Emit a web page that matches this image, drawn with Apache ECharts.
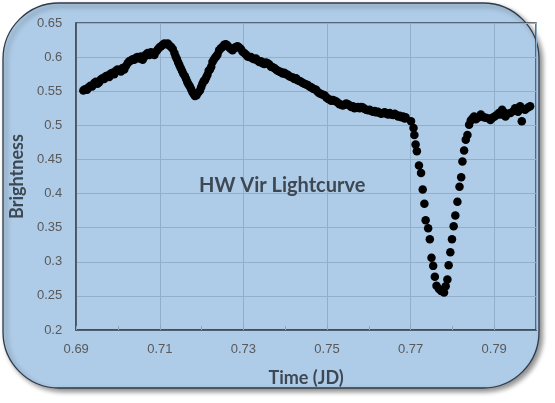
<!DOCTYPE html>
<html>
<head>
<meta charset="utf-8">
<title>HW Vir Lightcurve</title>
<script src="https://cdn.jsdelivr.net/npm/echarts@6/dist/echarts.min.js"></script>
<style>
  html, body { margin: 0; padding: 0; background: #ffffff; }
  #main { width: 555px; height: 403px; }
</style>
</head>
<body>
<div id="main"></div>
<script>
const times = [
  0.6917, 0.6921, 0.6926, 0.6930, 0.6934, 0.6938, 0.6943, 0.6947, 0.6951, 0.6955,
  0.6959, 0.6963, 0.6967, 0.6971, 0.6975, 0.6979, 0.6983, 0.6987, 0.6991, 0.6995,
  0.6999, 0.7003, 0.7007, 0.7011, 0.7015, 0.7019, 0.7023, 0.7027, 0.7031, 0.7035,
  0.7039, 0.7043, 0.7047, 0.7051, 0.7055, 0.7059, 0.7063, 0.7067, 0.7071, 0.7075,
  0.7079, 0.7083, 0.7087, 0.7091, 0.7095, 0.7099, 0.7103, 0.7107, 0.7111, 0.7115,
  0.7119, 0.7123, 0.7127, 0.7131, 0.7135, 0.7138, 0.7141, 0.7144, 0.7147, 0.7150,
  0.7153, 0.7156, 0.7160, 0.7163, 0.7166, 0.7169, 0.7172, 0.7175, 0.7178, 0.7181,
  0.7184, 0.7188, 0.7192, 0.7196, 0.7199, 0.7202, 0.7205, 0.7208, 0.7211, 0.7214,
  0.7217, 0.7220, 0.7223, 0.7226, 0.7229, 0.7232, 0.7235, 0.7238, 0.7242, 0.7246,
  0.7250, 0.7254, 0.7258, 0.7262, 0.7266, 0.7270, 0.7274, 0.7278, 0.7282, 0.7286,
  0.7290, 0.7294, 0.7298, 0.7302, 0.7306, 0.7310, 0.7314, 0.7318, 0.7322, 0.7326,
  0.7330, 0.7334, 0.7338, 0.7342, 0.7346, 0.7350, 0.7354, 0.7358, 0.7362, 0.7366,
  0.7370, 0.7374, 0.7378, 0.7382, 0.7386, 0.7390, 0.7394, 0.7398, 0.7402, 0.7406,
  0.7410, 0.7414, 0.7418, 0.7422, 0.7426, 0.7430, 0.7434, 0.7438, 0.7442, 0.7446,
  0.7450, 0.7454, 0.7458, 0.7462, 0.7466, 0.7470, 0.7474, 0.7478, 0.7482, 0.7486,
  0.7490, 0.7494, 0.7498, 0.7502, 0.7506, 0.7510, 0.7514, 0.7518, 0.7522, 0.7526,
  0.7530, 0.7534, 0.7538, 0.7542, 0.7546, 0.7550, 0.7554, 0.7558, 0.7562, 0.7566,
  0.7570, 0.7574, 0.7578, 0.7582, 0.7586, 0.7590, 0.7594, 0.7598, 0.7602, 0.7606,
  0.7610, 0.7614, 0.7618, 0.7622, 0.7626, 0.7630, 0.7634, 0.7638, 0.7642, 0.7646,
  0.7650, 0.7654, 0.7658, 0.7662, 0.7666, 0.7670, 0.7674, 0.7678, 0.7682, 0.7686,
  // eclipse
  0.7688, 0.7701, 0.7707, 0.7709, 0.7712, 0.7715, 0.7720, 0.7725, 0.7729, 0.7733,
  0.7736, 0.7742, 0.7746, 0.7750, 0.7754, 0.7758, 0.7762, 0.7768, 0.7773, 0.7780,
  0.7784, 0.7788, 0.7791, 0.7795, 0.7799, 0.7803, 0.7807, 0.7812, 0.7817, 0.7821,
  0.7824, 0.7828, 0.7832, 0.7836, 0.7840, 0.7844,
  // after eclipse
  0.7848, 0.7852, 0.7856, 0.7861, 0.7868, 0.7875, 0.7880, 0.7887, 0.7891, 0.7896,
  0.7901, 0.7906, 0.7911, 0.7915, 0.7919, 0.7923, 0.7927, 0.7932, 0.7939, 0.7946,
  0.7950, 0.7957, 0.7962, 0.7966, 0.7970, 0.7974, 0.7981, 0.7986
];

// brightness at each time
const brightness = [
  0.551, 0.553, 0.552, 0.556, 0.558, 0.557, 0.562, 0.564, 0.561, 0.563,
  0.567, 0.569, 0.568, 0.572, 0.573, 0.571, 0.576, 0.577, 0.575, 0.580,
  0.582, 0.580, 0.579, 0.584, 0.582, 0.587, 0.591, 0.594, 0.595, 0.597,
  0.596, 0.599, 0.600, 0.598, 0.601, 0.596, 0.600, 0.604, 0.606, 0.603,
  0.607, 0.605, 0.603, 0.608, 0.611, 0.614, 0.616, 0.618, 0.620, 0.619,
  0.620, 0.617, 0.615, 0.612, 0.606, 0.601, 0.597, 0.592, 0.588, 0.584,
  0.580, 0.576, 0.572, 0.568, 0.563, 0.560, 0.557, 0.553, 0.549, 0.546,
  0.543, 0.544, 0.548, 0.551, 0.556, 0.561, 0.565, 0.566, 0.570, 0.574,
  0.580, 0.582, 0.586, 0.593, 0.596, 0.599, 0.601, 0.604, 0.610, 0.613,
  0.615, 0.618, 0.619, 0.617, 0.614, 0.612, 0.610, 0.613, 0.615, 0.616,
  0.614, 0.612, 0.608, 0.606, 0.604, 0.601, 0.600, 0.600, 0.598, 0.597,
  0.598, 0.595, 0.593, 0.594, 0.591, 0.590, 0.592, 0.591, 0.589, 0.586,
  0.585, 0.584, 0.582, 0.580, 0.579, 0.578, 0.576, 0.577, 0.575, 0.574,
  0.572, 0.571, 0.570, 0.568, 0.569, 0.566, 0.565, 0.564, 0.562, 0.561,
  0.560, 0.559, 0.557, 0.556, 0.554, 0.553, 0.552, 0.549, 0.547, 0.546,
  0.545, 0.544, 0.541, 0.539, 0.538, 0.536, 0.537, 0.536, 0.535, 0.533,
  0.531, 0.530, 0.529, 0.530, 0.532, 0.531, 0.529, 0.527, 0.528, 0.525,
  0.526, 0.527, 0.525, 0.527, 0.526, 0.524, 0.523, 0.522, 0.523, 0.521,
  0.520, 0.521, 0.519, 0.520, 0.518, 0.517, 0.518, 0.519, 0.517, 0.516,
  0.518, 0.516, 0.515, 0.517, 0.515, 0.513, 0.514, 0.512, 0.513, 0.510,
  // eclipse
  0.512, 0.506, 0.496, 0.486, 0.472, 0.462, 0.441, 0.430, 0.406, 0.385,
  0.361, 0.349, 0.333, 0.306, 0.294, 0.278, 0.265, 0.260, 0.257, 0.255,
  0.264, 0.274, 0.295, 0.314, 0.333, 0.352, 0.368, 0.388, 0.410, 0.424,
  0.447, 0.463, 0.479, 0.486, 0.501, 0.507,
  // after eclipse
  0.510, 0.513, 0.509, 0.511, 0.516, 0.512, 0.511, 0.510, 0.508, 0.511,
  0.513, 0.515, 0.518, 0.516, 0.523, 0.519, 0.513, 0.517, 0.518, 0.521,
  0.525, 0.520, 0.528, 0.506, 0.524, 0.523, 0.526, 0.528
];

const xTicks = [0.69, 0.80, 0.02];   // min, max, label step
const yTicks = [0.2, 0.65, 0.05];

const points = times.map((t, i) => [t, brightness[i]]);

const chart = echarts.init(document.getElementById("main"));

const labelStyle = { color: "#595959", fontSize: 13, fontFamily: "Liberation Sans" };
const nameStyle = { color: "#3d4852", fontSize: 18, fontWeight: "bold", fontFamily: "Lato" };

const option = {
  animation: false,
  // rounded light blue chart area
  graphic: [
    {
      type: "rect",
      z: -10,
      shape: { x: 3, y: 3, width: 536, height: 385, r: 56 },
      style: {
        fill: "#aecbe7",
        stroke: "#2f3b4a",
        lineWidth: 1.3,
        shadowBlur: 5,
        shadowOffsetX: 3,
        shadowOffsetY: 3,
        shadowColor: "rgba(0,0,0,0.45)"
      }
    }
  ],
  title: {
    text: "HW Vir Lightcurve",
    left: 194,
    top: 171,
    textStyle: { color: "#3d4852", fontSize: 20, fontWeight: "bold", fontFamily: "Lato" }
  },
  grid: {
    left: 70,
    right: 19,
    top: 23,
    bottom: 73,
    show: true,
    borderColor: "#3c4651",
    borderWidth: 1.5
  },
  xAxis: [
    {
      type: "value",
      min: xTicks[0],
      max: xTicks[1],
      interval: xTicks[2],
      name: "Time (JD)",
      nameLocation: "middle",
      nameGap: 39,
      nameTextStyle: nameStyle,
      axisLine: { show: true, lineStyle: { color: "#3c4651", width: 1.5 } },
      axisTick: { show: false },
      axisLabel: {
        ...labelStyle,
        margin: 13,
        showMaxLabel: false,
        formatter: (v) => v.toFixed(2)
      },
      splitLine: { show: true, lineStyle: { color: "#93aec8", width: 1 } }
    },
    {
      // small inner ticks every 0.01
      type: "value",
      position: "bottom",
      min: xTicks[0],
      max: xTicks[1],
      interval: 0.01,
      axisLine: { show: false },
      axisTick: { show: true, inside: true, length: 4, lineStyle: { color: "#8ea6bd" } },
      axisLabel: { show: false },
      splitLine: { show: false }
    }
  ],
  yAxis: {
    type: "value",
    min: yTicks[0],
    max: yTicks[1],
    interval: yTicks[2],
    name: "Brightness",
    nameLocation: "middle",
    nameGap: 50,
    nameTextStyle: nameStyle,
    axisLine: { show: true, lineStyle: { color: "#3c4651", width: 1.5 } },
    axisTick: { show: false },
    axisLabel: {
      ...labelStyle,
      margin: 14,
      formatter: (v) => String(parseFloat(v.toFixed(2)))
    },
    splitLine: { show: true, lineStyle: { color: "#93aec8", width: 1 } }
  },
  series: [
    {
      type: "scatter",
      xAxisIndex: 0,
      data: points,
      symbol: "circle",
      symbolSize: 8.5,
      itemStyle: { color: "#000000", opacity: 1 }
    }
  ]
};

option && chart.setOption(option);
</script>
</body>
</html>
